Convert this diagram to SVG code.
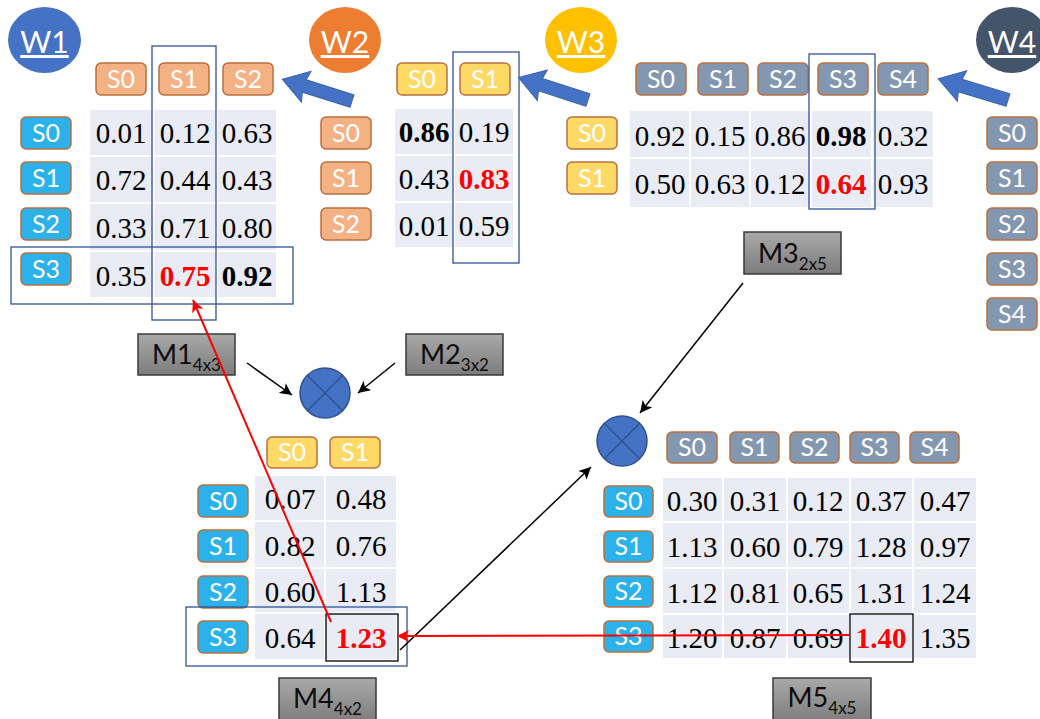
<svg xmlns="http://www.w3.org/2000/svg" width="1040" height="719" viewBox="0 0 1040 719">
  <defs>
    <linearGradient id="gBox" x1="0" y1="0" x2="0" y2="1">
      <stop offset="0" stop-color="#a9a9a9"/>
      <stop offset="1" stop-color="#7c7c7c"/>
    </linearGradient>
    <marker id="ahBlack" markerUnits="userSpaceOnUse" markerWidth="14" markerHeight="12" refX="12" refY="6" orient="auto">
      <path d="M0,0 L12,6 L0,12 L3,6 Z" fill="#000"/>
    </marker>
    <marker id="ahRed" markerUnits="userSpaceOnUse" markerWidth="14" markerHeight="12" refX="12" refY="6" orient="auto">
      <path d="M0,0 L12,6 L0,12 L3,6 Z" fill="#ff0000"/>
    </marker>
    <path id="bigArrow" d="M0,-6.5 L50,-6.5 L48,-16 L73,0 L48,16 L50,6.5 L0,6.5 Z"/>
  </defs>
  <style>
    .lbl { stroke: #b8703f; stroke-width: 1.5; }
    .cy { fill: #2bb2ea; }
    .or { fill: #f4b183; }
    .ye { fill: #ffd966; }
    .gb { fill: #8497b0; }
    .lt { font-family: Lato, "Liberation Sans", sans-serif; font-size: 25px; fill: #fff; text-anchor: middle; }
    .cell { fill: #e9ebf5; stroke: #fff; stroke-width: 2; }
    .num { font-family: "Liberation Serif", serif; font-size: 29px; fill: #000; text-anchor: middle; }
    .b { font-weight: bold; }
    .r { font-weight: bold; fill: #ff0000; }
    .sel { fill: none; stroke: #2f5597; stroke-width: 1.3; }
    .hit { fill: none; stroke: #000; stroke-width: 1.3; }
    .mbox { fill: url(#gBox); stroke: #3a3a3a; stroke-width: 1.5; }
    .mt { font-family: Lato, "Liberation Sans", sans-serif; font-size: 27px; fill: #0d0d0d; text-anchor: middle; }
    .wt { font-family: Lato, "Liberation Sans", sans-serif; font-size: 30px; fill: #fff; text-anchor: middle; text-decoration: underline; }
    .op { fill: #4472c4; stroke: #2f528f; stroke-width: 1.5; }
    .opx { stroke: #2f528f; stroke-width: 1.5; }
    .ba { fill: #4472c4; stroke: #3a62a8; stroke-width: 1; }
    .ln { stroke: #000; stroke-width: 1.5; fill: none; marker-end: url(#ahBlack); }
    .rl { stroke: #ff0000; stroke-width: 2; fill: none; marker-end: url(#ahRed); }
  </style>

  <!-- weight circles -->
  <g id="w1">
    <ellipse cx="44.5" cy="40" rx="36.5" ry="33" fill="#4472c4"/>
    <text class="wt" x="44.5" y="53">W1</text>
  </g>
  <g id="w2">
    <ellipse cx="345" cy="40" rx="36" ry="33" fill="#ed7d31"/>
    <text class="wt" x="345" y="53">W2</text>
  </g>
  <g id="w3">
    <ellipse cx="581" cy="40" rx="36" ry="33" fill="#ffc000"/>
    <text class="wt" x="581" y="53">W3</text>
  </g>
  <g id="w4">
    <ellipse cx="1012" cy="40" rx="36" ry="33" fill="#44546a"/>
    <text class="wt" x="1012" y="53">W4</text>
  </g>

  <!-- M1: 4x3 matrix -->
  <g id="m1">
    <rect class="lbl or" x="96" y="63" width="50" height="32" rx="5"/>
    <rect class="lbl or" x="159" y="63" width="50" height="32" rx="5"/>
    <rect class="lbl or" x="223" y="63" width="50" height="32" rx="5"/>
    <text class="lt" x="121" y="88">S0</text>
    <text class="lt" x="184" y="88">S1</text>
    <text class="lt" x="248" y="88">S2</text>
    <rect class="lbl cy" x="21" y="117" width="50" height="32" rx="5"/>
    <rect class="lbl cy" x="21" y="162" width="50" height="32" rx="5"/>
    <rect class="lbl cy" x="21" y="208" width="50" height="32" rx="5"/>
    <rect class="lbl cy" x="21" y="253" width="50" height="32" rx="5"/>
    <text class="lt" x="46" y="142">S0</text>
    <text class="lt" x="46" y="187">S1</text>
    <text class="lt" x="46" y="233">S2</text>
    <text class="lt" x="46" y="278">S3</text>
    <rect class="cell" x="89" y="109" width="65" height="47"/>
    <rect class="cell" x="154" y="109" width="63" height="47"/>
    <rect class="cell" x="217" y="109" width="60" height="47"/>
    <rect class="cell" x="89" y="156" width="65" height="47"/>
    <rect class="cell" x="154" y="156" width="63" height="47"/>
    <rect class="cell" x="217" y="156" width="60" height="47"/>
    <rect class="cell" x="89" y="203" width="65" height="48"/>
    <rect class="cell" x="154" y="203" width="63" height="48"/>
    <rect class="cell" x="217" y="203" width="60" height="48"/>
    <rect class="cell" x="89" y="251" width="65" height="47"/>
    <rect class="cell" x="154" y="251" width="63" height="47"/>
    <rect class="cell" x="217" y="251" width="60" height="47"/>
    <text class="num" x="121" y="143">0.01</text>
    <text class="num" x="185" y="143">0.12</text>
    <text class="num" x="247" y="143">0.63</text>
    <text class="num" x="121" y="190">0.72</text>
    <text class="num" x="185" y="190">0.44</text>
    <text class="num" x="247" y="190">0.43</text>
    <text class="num" x="121" y="238">0.33</text>
    <text class="num" x="185" y="238">0.71</text>
    <text class="num" x="247" y="238">0.80</text>
    <text class="num" x="121" y="286">0.35</text>
    <text class="num r" x="185" y="286">0.75</text>
    <text class="num b" x="247" y="286">0.92</text>
    <rect class="sel" x="152" y="46" width="64" height="274"/>
    <rect class="sel" x="11" y="247" width="282" height="57"/>
  </g>

  <!-- M2: 3x2 matrix -->
  <g id="m2">
    <rect class="lbl ye" x="397" y="63" width="50" height="32" rx="5"/>
    <rect class="lbl ye" x="460" y="63" width="50" height="32" rx="5"/>
    <text class="lt" x="422" y="88">S0</text>
    <text class="lt" x="485" y="88">S1</text>
    <rect class="lbl or" x="321" y="117" width="50" height="32" rx="5"/>
    <rect class="lbl or" x="321" y="162" width="50" height="32" rx="5"/>
    <rect class="lbl or" x="321" y="208" width="50" height="32" rx="5"/>
    <text class="lt" x="346" y="142">S0</text>
    <text class="lt" x="346" y="187">S1</text>
    <text class="lt" x="346" y="233">S2</text>
    <rect class="cell" x="394" y="108" width="60" height="47"/>
    <rect class="cell" x="454" y="108" width="60" height="47"/>
    <rect class="cell" x="394" y="155" width="60" height="47"/>
    <rect class="cell" x="454" y="155" width="60" height="47"/>
    <rect class="cell" x="394" y="202" width="60" height="46"/>
    <rect class="cell" x="454" y="202" width="60" height="46"/>
    <text class="num b" x="424" y="142">0.86</text>
    <text class="num" x="484" y="142">0.19</text>
    <text class="num" x="424" y="189">0.43</text>
    <text class="num r" x="484" y="189">0.83</text>
    <text class="num" x="424" y="236">0.01</text>
    <text class="num" x="484" y="236">0.59</text>
    <rect class="sel" x="453" y="52" width="66" height="211"/>
  </g>

  <!-- M3: 2x5 matrix -->
  <g id="m3">
    <rect class="lbl gb" x="636" y="63" width="50" height="32" rx="5"/>
    <rect class="lbl gb" x="698" y="63" width="50" height="32" rx="5"/>
    <rect class="lbl gb" x="758" y="63" width="50" height="32" rx="5"/>
    <rect class="lbl gb" x="818" y="63" width="50" height="32" rx="5"/>
    <rect class="lbl gb" x="878" y="63" width="50" height="32" rx="5"/>
    <text class="lt" x="661" y="88">S0</text>
    <text class="lt" x="723" y="88">S1</text>
    <text class="lt" x="783" y="88">S2</text>
    <text class="lt" x="843" y="88">S3</text>
    <text class="lt" x="903" y="88">S4</text>
    <rect class="lbl ye" x="567" y="117" width="50" height="32" rx="5"/>
    <rect class="lbl ye" x="567" y="162" width="50" height="32" rx="5"/>
    <text class="lt" x="592" y="142">S0</text>
    <text class="lt" x="592" y="187">S1</text>
    <rect class="cell" x="629" y="110" width="61" height="48"/>
    <rect class="cell" x="690" y="110" width="60" height="48"/>
    <rect class="cell" x="750" y="110" width="61" height="48"/>
    <rect class="cell" x="811" y="110" width="61" height="48"/>
    <rect class="cell" x="872" y="110" width="62" height="48"/>
    <rect class="cell" x="629" y="158" width="61" height="50"/>
    <rect class="cell" x="690" y="158" width="60" height="50"/>
    <rect class="cell" x="750" y="158" width="61" height="50"/>
    <rect class="cell" x="811" y="158" width="61" height="50"/>
    <rect class="cell" x="872" y="158" width="62" height="50"/>
    <text class="num" x="660" y="146">0.92</text>
    <text class="num" x="720" y="146">0.15</text>
    <text class="num" x="780" y="146">0.86</text>
    <text class="num b" x="841" y="146">0.98</text>
    <text class="num" x="903" y="146">0.32</text>
    <text class="num" x="660" y="194">0.50</text>
    <text class="num" x="720" y="194">0.63</text>
    <text class="num" x="780" y="194">0.12</text>
    <text class="num r" x="841" y="194">0.64</text>
    <text class="num" x="903" y="194">0.93</text>
    <rect class="sel" x="809" y="54" width="66" height="155"/>
  </g>

  <!-- W4 row states -->
  <g id="m4rows">
    <rect class="lbl gb" x="987" y="117" width="50" height="32" rx="5"/>
    <rect class="lbl gb" x="987" y="162" width="50" height="32" rx="5"/>
    <rect class="lbl gb" x="987" y="208" width="50" height="32" rx="5"/>
    <rect class="lbl gb" x="987" y="253" width="50" height="32" rx="5"/>
    <rect class="lbl gb" x="987" y="298" width="50" height="32" rx="5"/>
    <text class="lt" x="1012" y="142">S0</text>
    <text class="lt" x="1012" y="187">S1</text>
    <text class="lt" x="1012" y="233">S2</text>
    <text class="lt" x="1012" y="278">S3</text>
    <text class="lt" x="1012" y="323">S4</text>
  </g>

  <!-- matrix name tags -->
  <g id="tag-m1">
    <rect class="mbox" x="138" y="334" width="97" height="41"/>
    <text class="mt" x="186.5" y="364">M1<tspan font-size="17" dy="7">4x3</tspan></text>
  </g>
  <g id="tag-m2">
    <rect class="mbox" x="406" y="334" width="97" height="41"/>
    <text class="mt" x="454.5" y="364">M2<tspan font-size="17" dy="7">3x2</tspan></text>
  </g>
  <g id="tag-m3">
    <rect class="mbox" x="744" y="232" width="97" height="42"/>
    <text class="mt" x="792.5" y="263">M3<tspan font-size="17" dy="7">2x5</tspan></text>
  </g>
  <g id="tag-m4">
    <rect class="mbox" x="279" y="678" width="97" height="45"/>
    <text class="mt" x="327.5" y="708">M4<tspan font-size="17" dy="7">4x2</tspan></text>
  </g>
  <g id="tag-m5">
    <rect class="mbox" x="773" y="678" width="98" height="45"/>
    <text class="mt" x="822" y="707">M5<tspan font-size="17" dy="7">4x5</tspan></text>
  </g>

  <!-- multiply operators -->
  <g id="op1">
    <circle class="op" cx="325" cy="393" r="25"/>
    <line class="opx" x1="307.3" y1="375.3" x2="342.7" y2="410.7"/>
    <line class="opx" x1="342.7" y1="375.3" x2="307.3" y2="410.7"/>
  </g>
  <g id="op2">
    <circle class="op" cx="622" cy="441" r="25"/>
    <line class="opx" x1="604.3" y1="423.3" x2="639.7" y2="458.7"/>
    <line class="opx" x1="639.7" y1="423.3" x2="604.3" y2="458.7"/>
  </g>

  <!-- M4: 4x2 product -->
  <g id="m4">
    <rect class="lbl ye" x="267" y="437" width="50" height="31" rx="5"/>
    <rect class="lbl ye" x="330" y="437" width="50" height="31" rx="5"/>
    <text class="lt" x="292" y="461">S0</text>
    <text class="lt" x="355" y="461">S1</text>
    <rect class="lbl cy" x="198" y="485" width="50" height="32" rx="5"/>
    <rect class="lbl cy" x="198" y="530" width="50" height="32" rx="5"/>
    <rect class="lbl cy" x="198" y="576" width="50" height="32" rx="5"/>
    <rect class="lbl cy" x="198" y="621" width="50" height="32" rx="5"/>
    <text class="lt" x="223" y="510">S0</text>
    <text class="lt" x="223" y="555">S1</text>
    <text class="lt" x="223" y="601">S2</text>
    <text class="lt" x="223" y="646">S3</text>
    <rect class="cell" x="254" y="475" width="71" height="46"/>
    <rect class="cell" x="325" y="475" width="72" height="46"/>
    <rect class="cell" x="254" y="521" width="71" height="47"/>
    <rect class="cell" x="325" y="521" width="72" height="47"/>
    <rect class="cell" x="254" y="568" width="71" height="45"/>
    <rect class="cell" x="325" y="568" width="72" height="45"/>
    <rect class="cell" x="254" y="613" width="71" height="47"/>
    <rect class="cell" x="325" y="613" width="72" height="47"/>
    <text class="num" x="290" y="509">0.07</text>
    <text class="num" x="361" y="509">0.48</text>
    <text class="num" x="290" y="556">0.82</text>
    <text class="num" x="361" y="556">0.76</text>
    <text class="num" x="290" y="602">0.60</text>
    <text class="num" x="361" y="602">1.13</text>
    <text class="num" x="290" y="648">0.64</text>
    <text class="num r" x="361" y="648">1.23</text>
    <rect class="sel" x="186" y="607" width="221" height="59"/>
    <rect class="hit" x="326" y="614" width="72" height="47"/>
  </g>

  <!-- M5: 4x5 product -->
  <g id="m5">
    <rect class="lbl gb" x="667" y="432" width="50" height="31" rx="5"/>
    <rect class="lbl gb" x="730" y="432" width="49" height="31" rx="5"/>
    <rect class="lbl gb" x="790" y="432" width="49" height="31" rx="5"/>
    <rect class="lbl gb" x="850" y="432" width="49" height="31" rx="5"/>
    <rect class="lbl gb" x="910" y="432" width="49" height="31" rx="5"/>
    <text class="lt" x="692" y="456">S0</text>
    <text class="lt" x="754.5" y="456">S1</text>
    <text class="lt" x="814.5" y="456">S2</text>
    <text class="lt" x="874.5" y="456">S3</text>
    <text class="lt" x="934.5" y="456">S4</text>
    <rect class="lbl cy" x="604" y="486" width="49" height="31" rx="5"/>
    <rect class="lbl cy" x="604" y="531" width="49" height="31" rx="5"/>
    <rect class="lbl cy" x="604" y="576" width="49" height="31" rx="5"/>
    <rect class="lbl cy" x="604" y="621" width="49" height="31" rx="5"/>
    <text class="lt" x="628.5" y="510">S0</text>
    <text class="lt" x="628.5" y="555">S1</text>
    <text class="lt" x="628.5" y="600">S2</text>
    <text class="lt" x="628.5" y="645">S3</text>
    <rect class="cell" x="662" y="477" width="61" height="45"/>
    <rect class="cell" x="723" y="477" width="64" height="45"/>
    <rect class="cell" x="787" y="477" width="63" height="45"/>
    <rect class="cell" x="850" y="477" width="63" height="45"/>
    <rect class="cell" x="913" y="477" width="64" height="45"/>
    <rect class="cell" x="662" y="522" width="61" height="46"/>
    <rect class="cell" x="723" y="522" width="64" height="46"/>
    <rect class="cell" x="787" y="522" width="63" height="46"/>
    <rect class="cell" x="850" y="522" width="63" height="46"/>
    <rect class="cell" x="913" y="522" width="64" height="46"/>
    <rect class="cell" x="662" y="568" width="61" height="46"/>
    <rect class="cell" x="723" y="568" width="64" height="46"/>
    <rect class="cell" x="787" y="568" width="63" height="46"/>
    <rect class="cell" x="850" y="568" width="63" height="46"/>
    <rect class="cell" x="913" y="568" width="64" height="46"/>
    <rect class="cell" x="662" y="614" width="61" height="45"/>
    <rect class="cell" x="723" y="614" width="64" height="45"/>
    <rect class="cell" x="787" y="614" width="63" height="45"/>
    <rect class="cell" x="850" y="614" width="63" height="45"/>
    <rect class="cell" x="913" y="614" width="64" height="45"/>
    <text class="num" x="692" y="511">0.30</text>
    <text class="num" x="755" y="511">0.31</text>
    <text class="num" x="818" y="511">0.12</text>
    <text class="num" x="881" y="511">0.37</text>
    <text class="num" x="945" y="511">0.47</text>
    <text class="num" x="692" y="557">1.13</text>
    <text class="num" x="755" y="557">0.60</text>
    <text class="num" x="818" y="557">0.79</text>
    <text class="num" x="881" y="557">1.28</text>
    <text class="num" x="945" y="557">0.97</text>
    <text class="num" x="692" y="603">1.12</text>
    <text class="num" x="755" y="603">0.81</text>
    <text class="num" x="818" y="603">0.65</text>
    <text class="num" x="881" y="603">1.31</text>
    <text class="num" x="945" y="603">1.24</text>
    <text class="num" x="692" y="648">1.20</text>
    <text class="num" x="755" y="648">0.87</text>
    <text class="num" x="818" y="648">0.69</text>
    <text class="num r" x="881" y="648">1.40</text>
    <text class="num" x="945" y="648">1.35</text>
    <rect class="hit" x="850" y="614" width="63" height="48"/>
  </g>

  <!-- connectors -->
  <g id="connectors">
    <use href="#bigArrow" class="ba" transform="translate(352,101) rotate(197.4)"/>
    <use href="#bigArrow" class="ba" transform="translate(588,100) rotate(197.9)"/>
    <use href="#bigArrow" class="ba" transform="translate(1008,100) rotate(196.9)"/>
    <line class="ln" x1="247" y1="363" x2="292" y2="395"/>
    <line class="ln" x1="395" y1="363" x2="358" y2="393"/>
    <line class="ln" x1="743" y1="283" x2="640" y2="413"/>
    <line class="ln" x1="400" y1="650" x2="591" y2="467"/>
    <line class="rl" x1="331" y1="622" x2="193" y2="300"/>
    <line class="rl" x1="850" y1="635" x2="397" y2="636"/>
  </g>
</svg>
